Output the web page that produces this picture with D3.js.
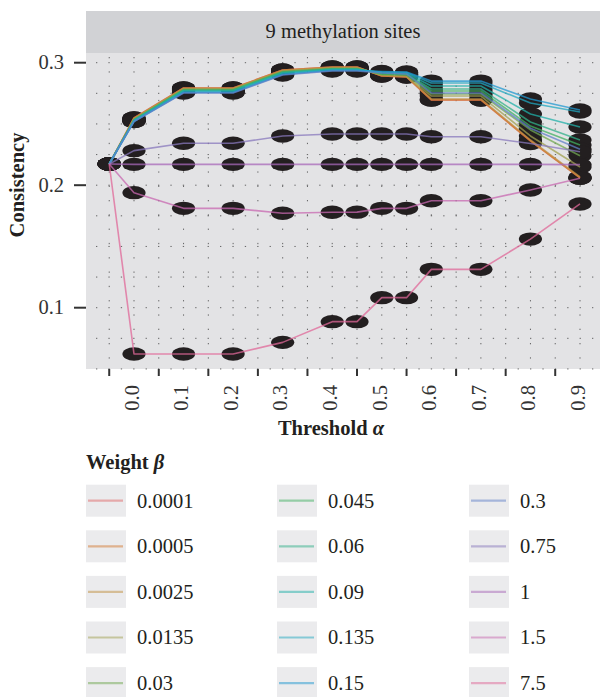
<!DOCTYPE html>
<html><head><meta charset="utf-8">
<script src="https://cdn.jsdelivr.net/npm/d3@7/dist/d3.min.js"></script>
<style>body{margin:0;background:#fff}</style>
</head><body><svg id="c" width="600" height="697"></svg>
<script>
// ---------------- data ----------------
const thresholds = [-0.05, 0, 0.1, 0.2, 0.3, 0.4, 0.45, 0.5, 0.55, 0.6, 0.7, 0.8, 0.9];
const xTickValues = [0, 0.1, 0.2, 0.3, 0.4, 0.5, 0.6, 0.7, 0.8, 0.9];
const xTickLabels = ["0.0","0.1","0.2","0.3","0.4","0.5","0.6","0.7","0.8","0.9"];
const yTickValues = [0.1, 0.2, 0.3];
const yTickLabels = ["0.1","0.2","0.3"];
const weights = ["0.0001","0.0005","0.0025","0.0135","0.03","0.045","0.06","0.09","0.135","0.15","0.3","0.75","1","1.5","7.5"];
const weightColors = ["#e06868","#d47a30","#c09040","#a0a050","#70a850","#40b060","#30b088","#20b0a8","#20a8c0","#2098d0","#6080c8","#8878bc","#a868b8","#c868b0","#e06898"];

const w0_0001 = [0.2173,0.2549,0.2793,0.2793,0.2940,0.2965,0.2965,0.2891,0.2883,0.2696,0.2696,0.2361,0.2059];
const w0_0005 = [0.2173,0.2549,0.2793,0.2793,0.2940,0.2965,0.2965,0.2891,0.2883,0.2696,0.2696,0.2361,0.2059];
const w0_0025 = [0.2173,0.2544,0.2789,0.2789,0.2936,0.2961,0.2961,0.2895,0.2887,0.2704,0.2704,0.2369,0.2067];
const w0_0135 = [0.2173,0.2540,0.2785,0.2785,0.2932,0.2957,0.2957,0.2900,0.2891,0.2728,0.2728,0.2402,0.2149];
const w0_03   = [0.2173,0.2536,0.2781,0.2781,0.2928,0.2953,0.2953,0.2904,0.2900,0.2744,0.2744,0.2451,0.2240];
const w0_045  = [0.2173,0.2532,0.2777,0.2777,0.2924,0.2949,0.2949,0.2908,0.2904,0.2769,0.2769,0.2483,0.2328];
const w0_06   = [0.2173,0.2532,0.2773,0.2773,0.2920,0.2949,0.2949,0.2916,0.2908,0.2785,0.2785,0.2516,0.2369];
const w0_09   = [0.2173,0.2528,0.2769,0.2769,0.2916,0.2944,0.2944,0.2920,0.2916,0.2810,0.2810,0.2581,0.2475];
const w0_135  = [0.2173,0.2524,0.2761,0.2761,0.2908,0.2940,0.2940,0.2924,0.2920,0.2834,0.2834,0.2671,0.2598];
const w0_15   = [0.2173,0.2520,0.2757,0.2757,0.2904,0.2936,0.2936,0.2928,0.2924,0.2850,0.2850,0.2704,0.2614];
const w0_3    = [0.2173,0.2520,0.2753,0.2753,0.2900,0.2932,0.2932,0.2916,0.2908,0.2753,0.2753,0.2465,0.2293];
const w0_75   = [0.2173,0.2282,0.2342,0.2342,0.2402,0.2418,0.2418,0.2418,0.2418,0.2396,0.2396,0.2340,0.2273];
const w1      = [0.2173,0.2170,0.2170,0.2170,0.2170,0.2170,0.2170,0.2170,0.2170,0.2170,0.2170,0.2170,0.2168];
const w1_5    = [0.2173,0.1939,0.1811,0.1811,0.1771,0.1779,0.1780,0.1811,0.1811,0.1873,0.1873,0.1961,0.2056];
const w7_5    = [0.2173,0.0622,0.0622,0.0622,0.0717,0.0886,0.0886,0.1082,0.1082,0.1313,0.1313,0.1560,0.1847];
const seriesValues = [w0_0001,w0_0005,w0_0025,w0_0135,w0_03,w0_045,w0_06,w0_09,w0_135,w0_15,w0_3,w0_75,w1,w1_5,w7_5];

// ---------------- layout ----------------
const svg = d3.select("#c");
const serif = "'Liberation Serif','DejaVu Serif',serif";
const panel = {left: 86, right: 600, top: 53, bottom: 369};
const strip = {top: 11, bottom: 53};

const x = d3.scaleLinear().domain([0, 0.9]).range([134, 580]);
const y = d3.scaleLinear().domain([0.1, 0.3]).range([307.7, 62.7]);

// strip
svg.append("rect").attr("x", panel.left).attr("y", strip.top)
  .attr("width", panel.right - panel.left).attr("height", strip.bottom - strip.top)
  .attr("fill", "#d1d2d5");
svg.append("text").attr("x", (panel.left + panel.right) / 2).attr("y", 38)
  .attr("text-anchor", "middle").attr("font-family", serif).attr("font-size", 20.5)
  .attr("fill", "#231f20").text("9 methylation sites");

// panel
svg.append("rect").attr("x", panel.left).attr("y", panel.top)
  .attr("width", panel.right - panel.left).attr("height", panel.bottom - panel.top)
  .attr("fill", "#e3e3e5");

// dotted grid
const grid = svg.append("g");
const hGrid = d3.range(0, 11).map(i => 0.3 - i * 0.025);
grid.selectAll("line.h").data(hGrid).join("line")
  .attr("x1", panel.left + 10).attr("x2", panel.right)
  .attr("y1", d => y(d)).attr("y2", d => y(d))
  .attr("stroke", "#444").attr("stroke-opacity", 0.8).attr("stroke-width", 1).attr("stroke-dasharray", "1.3,11.1");
const vGrid = d3.range(0, 20).map(i => -0.05 + i * 0.05);
grid.selectAll("line.v").data(vGrid).join("line")
  .attr("x1", d => x(d)).attr("x2", d => x(d))
  .attr("y1", panel.top + 4).attr("y2", panel.bottom)
  .attr("stroke", "#444").attr("stroke-opacity", 0.8).attr("stroke-width", 1).attr("stroke-dasharray", "1.3,13");

// y axis
const yAxis = svg.append("g");
yAxis.selectAll("line").data(yTickValues).join("line")
  .attr("x1", 74).attr("x2", panel.left).attr("y1", d => y(d)).attr("y2", d => y(d))
  .attr("stroke", "#333").attr("stroke-width", 2);
yAxis.selectAll("text").data(yTickValues).join("text")
  .attr("x", 64).attr("y", d => y(d)).attr("dy", "0.33em")
  .attr("text-anchor", "end").attr("font-family", serif).attr("font-size", 20.5)
  .attr("fill", "#333").text((d, i) => yTickLabels[i]);
svg.append("text").attr("transform", "translate(24,185) rotate(-90)")
  .attr("text-anchor", "middle").attr("font-family", serif).attr("font-size", 20.5)
  .attr("font-weight", "bold").attr("fill", "#231f20").text("Consistency");

// x axis
const xAxis = svg.append("g");
xAxis.selectAll("line").data(xTickValues).join("line")
  .attr("x1", d => x(d - 0.05)).attr("x2", d => x(d - 0.05))
  .attr("y1", panel.bottom).attr("y2", panel.bottom + 7)
  .attr("stroke", "#333").attr("stroke-width", 2);
xAxis.selectAll("text").data(xTickValues).join("text")
  .attr("transform", d => `translate(${x(d) - 2},385) rotate(-90)`)
  .attr("dy", "0.33em").attr("text-anchor", "end")
  .attr("font-family", serif).attr("font-size", 20.5).attr("fill", "#333")
  .text((d, i) => xTickLabels[i]);
const xt = svg.append("text").attr("x", 331).attr("y", 435)
  .attr("text-anchor", "middle").attr("font-family", serif).attr("font-size", 20.5)
  .attr("font-weight", "bold").attr("fill", "#231f20");
xt.append("tspan").text("Threshold ");
xt.append("tspan").attr("font-style", "italic").text("α");

// points
const pts = svg.append("g");
seriesValues.forEach(vals => {
  pts.selectAll(null).data(vals).join("ellipse")
    .attr("cx", (d, i) => x(thresholds[i])).attr("cy", d => y(d))
    .attr("rx", 11.6).attr("ry", 6.7).attr("fill", "#231f20");
});

// lines
const line = d3.line().x((d, i) => x(thresholds[i])).y(d => y(d));
const lines = svg.append("g");
seriesValues.forEach((vals, k) => {
  lines.append("path").attr("d", line(vals)).attr("fill", "none")
    .attr("stroke", weightColors[k]).attr("stroke-opacity", 0.75)
    .attr("stroke-width", 1.6).attr("stroke-linejoin", "round");
});

// legend
const lg = svg.append("g");
const lt = lg.append("text").attr("x", 86).attr("y", 469)
  .attr("font-family", serif).attr("font-size", 20.5).attr("font-weight", "bold").attr("fill", "#231f20");
lt.append("tspan").text("Weight ");
lt.append("tspan").attr("font-style", "italic").text("β");
const colX = [86, 277, 469];
const rowY0 = 500.7, rowStep = 45.6;
weights.forEach((w, k) => {
  const c = Math.floor(k / 5), r = k % 5;
  const cx = colX[c], cy = rowY0 + r * rowStep;
  lg.append("rect").attr("x", cx).attr("y", cy - 16).attr("width", 40).attr("height", 32).attr("fill", "#ebebed");
  lg.append("line").attr("x1", cx + 2).attr("x2", cx + 37).attr("y1", cy).attr("y2", cy)
    .attr("stroke", weightColors[k]).attr("stroke-opacity", 0.5).attr("stroke-width", 2.2);
  lg.append("text").attr("x", cx + 51).attr("y", cy).attr("dy", "0.34em")
    .attr("font-family", serif).attr("font-size", 20.5).attr("fill", "#231f20").text(w);
});
</script>
</body></html>
